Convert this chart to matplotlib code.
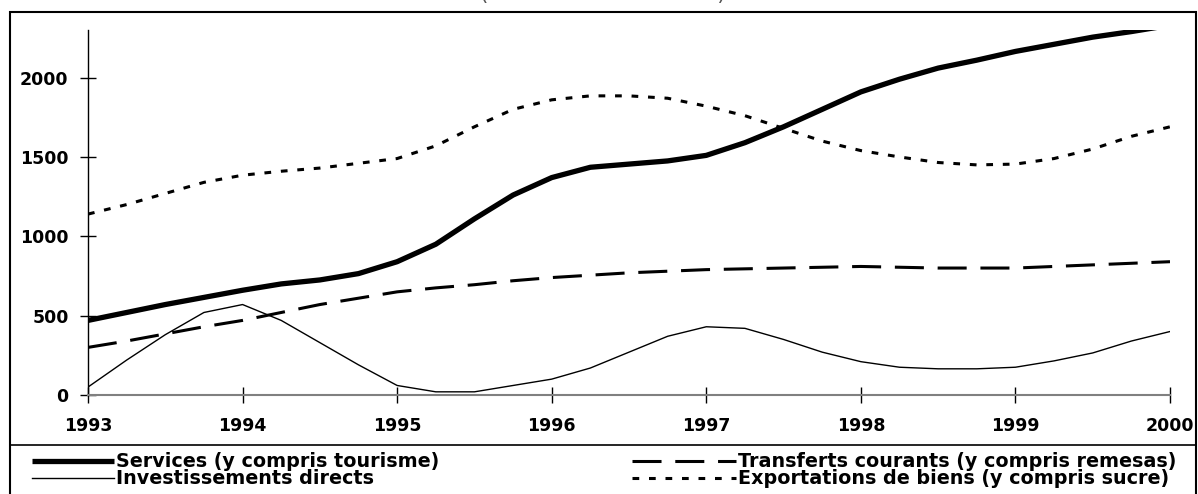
import matplotlib.pyplot as plt
import numpy as np
from matplotlib.lines import Line2D
from matplotlib.patches import Rectangle

plt.rcParams['font.family'] = ['DejaVu Sans']
plt.rcParams['font.weight'] = 'bold'

# quarterly points, 1993 -> 2000
quarters = np.arange(29) * 0.25 + 1993

services = [470, 520, 570, 615, 660, 700, 725, 765, 840, 950, 1110, 1260, 1370, 1435, 1455,
            1475, 1510, 1590, 1690, 1800, 1910, 1990, 2060, 2110, 2165, 2210, 2255, 2290, 2330]
transferts = [300, 340, 385, 430, 470, 520, 570, 610, 650, 675, 695, 720, 740, 755, 770,
              780, 790, 795, 800, 805, 810, 805, 800, 800, 800, 810, 820, 830, 840]
investissements = [50, 220, 380, 520, 570, 470, 330, 190, 60, 20, 20, 60, 100, 170, 270,
                   370, 430, 420, 350, 270, 210, 175, 165, 165, 175, 215, 265, 340, 400]
exportations = [1140, 1200, 1270, 1340, 1385, 1410, 1430, 1460, 1490, 1570, 1690, 1800, 1860, 1885, 1885,
                1870, 1820, 1760, 1680, 1600, 1540, 1500, 1465, 1450, 1455, 1490, 1550, 1630, 1690]

years = list(range(1993, 2001))
yticks = [0, 500, 1000, 1500, 2000]

W, H = 1198, 494
fig = plt.figure(figsize=(W / 100, H / 100), dpi=100)
ax = fig.add_axes([88 / W, 1 - 395 / H, (1170 - 88) / W, (395 - 30) / H])

ax.plot(quarters, services, color='black', lw=3.8, solid_capstyle='butt')
ax.plot(quarters, transferts, color='black', lw=2.2, dashes=(9.5, 4.5))
ax.plot(quarters, investissements, color='black', lw=1.0)
ax.plot(quarters, exportations, color='black', lw=2.2, dashes=(2.2, 3.2))

ax.set_xlim(1993, 2000)
ax.set_ylim(0, 2300)
ax.set_xticks(years)
ax.set_yticks(yticks)
for s in ['top', 'right']:
    ax.spines[s].set_visible(False)
ax.spines['bottom'].set_color('#808080')
ax.spines['bottom'].set_linewidth(1.5)
ax.spines['left'].set_linewidth(1.0)
ax.tick_params(axis='both', direction='inout', length=12, width=1, labelsize=12.5)
ax.tick_params(axis='x', pad=10)
ax.tick_params(axis='y', pad=8)
for lab in ax.get_xticklabels() + ax.get_yticklabels():
    lab.set_fontweight('bold')

# outer frame and legend separator
fig.add_artist(Rectangle((10 / W, -0.01), (1196 - 10) / W, 1.01 - 12 / H, transform=fig.transFigure,
                         fill=False, lw=1.5, edgecolor='black'))
fig.add_artist(Line2D([10 / W, 1196 / W], [1 - 445 / H, 1 - 445 / H], transform=fig.transFigure,
                      color='black', lw=1.2))

# title, mostly cut off above the picture as in the source
fig.text(603 / W, 1.0 + 0.5 / H, '(en millions de dollars)', ha='center', va='baseline',
         fontsize=15.5, fontweight='normal', color='#555555')

# legend
entries = [
    ('Services (y compris tourisme)', dict(lw=3.8, solid_capstyle='butt'), 32, 114, 461),
    ('Investissements directs', dict(lw=1.0), 32, 114, 478),
    ('Transferts courants (y compris remesas)', dict(lw=2.2, dashes=(9.5, 4.5)), 632, 736, 461),
    ('Exportations de biens (y compris sucre)', dict(lw=2.2, dashes=(2.2, 3.2)), 632, 736, 478),
]
for label, style, x0, x1, yy in entries:
    fig.add_artist(Line2D([x0 / W, x1 / W], [1 - yy / H, 1 - yy / H], transform=fig.transFigure,
                          color='black', **style))
    fig.text((x1 + 2) / W, 1 - yy / H, label, ha='left', va='center', fontsize=13.8, fontweight='bold')

fig.savefig('out.png', dpi=100)
